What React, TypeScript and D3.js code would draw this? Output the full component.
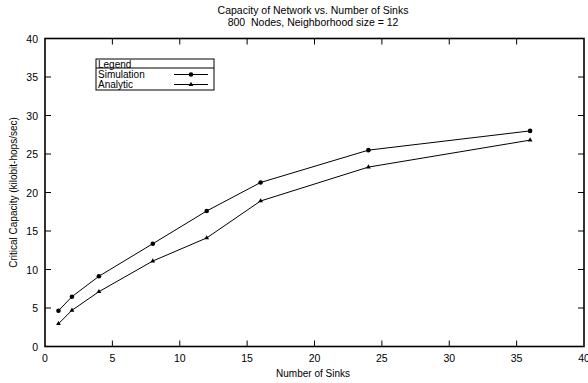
import React, { useEffect, useRef } from "react";
import * as d3 from "d3";

const sinks = [1, 2, 4, 8, 12, 16, 24, 36];
const simulation = [4.65, 6.47, 9.12, 13.35, 17.6, 21.3, 25.5, 28.0];
const analytic = [2.96, 4.7, 7.12, 11.1, 14.1, 18.9, 23.3, 26.8];
const xTicks = [0, 5, 10, 15, 20, 25, 30, 35, 40];
const yTicks = [0, 5, 10, 15, 20, 25, 30, 35, 40];

const W = 588,
  H = 383;
const m = { left: 45, right: 4, top: 38.5, bottom: 36.5 };
const FONT = "Liberation Sans, Arial, Helvetica, sans-serif";

export default function App() {
  const svgRef = useRef<SVGSVGElement>(null);

  useEffect(() => {
    const svg = d3.select(svgRef.current);
    svg.selectAll("*").remove();

    const x = d3.scaleLinear().domain([0, 40]).range([m.left, W - m.right]);
    const y = d3.scaleLinear().domain([0, 40]).range([H - m.bottom, m.top]);

    // title
    svg
      .append("text")
      .attr("x", 313)
      .attr("y", 14)
      .attr("text-anchor", "middle")
      .attr("font-size", 10.5)
      .text("Capacity of Network vs. Number of Sinks");
    svg
      .append("text")
      .attr("x", 313)
      .attr("y", 26)
      .attr("text-anchor", "middle")
      .attr("font-size", 10.5)
      .attr("xml:space", "preserve")
      .text("800  Nodes, Neighborhood size = 12");

    // frame
    svg
      .append("rect")
      .attr("x", x(0))
      .attr("y", y(40))
      .attr("width", x(40) - x(0))
      .attr("height", y(0) - y(40))
      .attr("fill", "none")
      .attr("stroke", "#000")
      .attr("stroke-width", 1.6);

    const tl = 6;
    // x ticks, bottom and top, pointing in
    const xt = svg.append("g");
    xTicks.slice(1, -1).forEach((t) => {
      xt.append("line")
        .attr("x1", x(t)).attr("x2", x(t))
        .attr("y1", y(0)).attr("y2", y(0) - tl)
        .attr("stroke", "#000");
      xt.append("line")
        .attr("x1", x(t)).attr("x2", x(t))
        .attr("y1", y(40)).attr("y2", y(40) + tl)
        .attr("stroke", "#000");
    });
    svg
      .append("g")
      .selectAll("text")
      .data(xTicks)
      .join("text")
      .attr("x", (d) => x(d))
      .attr("y", y(0) + 15)
      .attr("text-anchor", "middle")
      .attr("font-size", 10.5)
      .text((d) => d);

    // y ticks, left and right
    const yt = svg.append("g");
    yTicks.slice(1, -1).forEach((t) => {
      yt.append("line")
        .attr("x1", x(0)).attr("x2", x(0) + tl)
        .attr("y1", y(t)).attr("y2", y(t))
        .attr("stroke", "#000");
      yt.append("line")
        .attr("x1", x(40)).attr("x2", x(40) - tl)
        .attr("y1", y(t)).attr("y2", y(t))
        .attr("stroke", "#000");
    });
    svg
      .append("g")
      .selectAll("text")
      .data(yTicks)
      .join("text")
      .attr("x", x(0) - 7)
      .attr("y", (d) => y(d) + 4)
      .attr("text-anchor", "end")
      .attr("font-size", 10.5)
      .text((d) => d);

    // axis titles
    svg
      .append("text")
      .attr("x", 313)
      .attr("y", 377)
      .attr("text-anchor", "middle")
      .attr("font-size", 10)
      .text("Number of Sinks");
    svg
      .append("text")
      .attr("transform", `translate(17, ${(y(0) + y(40)) / 2}) rotate(-90)`)
      .attr("text-anchor", "middle")
      .attr("font-size", 10)
      .text("Critical Capacity (kilobit-hops/sec)");

    const line = d3
      .line<number>()
      .x((_, i) => x(sinks[i]))
      .y((d) => y(d));

    // simulation
    svg
      .append("path")
      .attr("d", line(simulation))
      .attr("fill", "none")
      .attr("stroke", "#000")
      .attr("stroke-width", 1);
    svg
      .append("g")
      .selectAll("circle")
      .data(simulation)
      .join("circle")
      .attr("cx", (_, i) => x(sinks[i]))
      .attr("cy", (d) => y(d))
      .attr("r", 2.3)
      .attr("fill", "#000");

    // analytic
    svg
      .append("path")
      .attr("d", line(analytic))
      .attr("fill", "none")
      .attr("stroke", "#000")
      .attr("stroke-width", 1);
    const tri = d3.symbol().type(d3.symbolTriangle).size(10);
    svg
      .append("g")
      .selectAll("path")
      .data(analytic)
      .join("path")
      .attr("transform", (d, i) => `translate(${x(sinks[i])},${y(d)})`)
      .attr("d", tri())
      .attr("fill", "#000");

    // legend
    const lg = svg.append("g");
    lg.append("rect")
      .attr("x", 96).attr("y", 59)
      .attr("width", 118).attr("height", 31)
      .attr("fill", "#fff")
      .attr("stroke", "#000")
      .attr("stroke-width", 1);
    lg.append("line")
      .attr("x1", 96).attr("x2", 214)
      .attr("y1", 68).attr("y2", 68)
      .attr("stroke", "#000");
    lg.append("text").attr("x", 98).attr("y", 67.5).attr("font-size", 10).text("Legend");
    lg.append("text").attr("x", 98).attr("y", 78).attr("font-size", 10).text("Simulation");
    lg.append("text").attr("x", 98).attr("y", 88).attr("font-size", 10).text("Analytic");
    lg.append("line")
      .attr("x1", 174).attr("x2", 208)
      .attr("y1", 74.5).attr("y2", 74.5)
      .attr("stroke", "#000");
    lg.append("circle").attr("cx", 191).attr("cy", 74.5).attr("r", 2.3).attr("fill", "#000");
    lg.append("line")
      .attr("x1", 174).attr("x2", 208)
      .attr("y1", 84.5).attr("y2", 84.5)
      .attr("stroke", "#000");
    lg.append("path")
      .attr("transform", "translate(191,84.5)")
      .attr("d", tri())
      .attr("fill", "#000");
  }, []);

  return (
    <svg
      ref={svgRef}
      width={W}
      height={H}
      style={{ position: "absolute", left: 0, top: 0, fontFamily: FONT, background: "#fff" }}
    />
  );
}
